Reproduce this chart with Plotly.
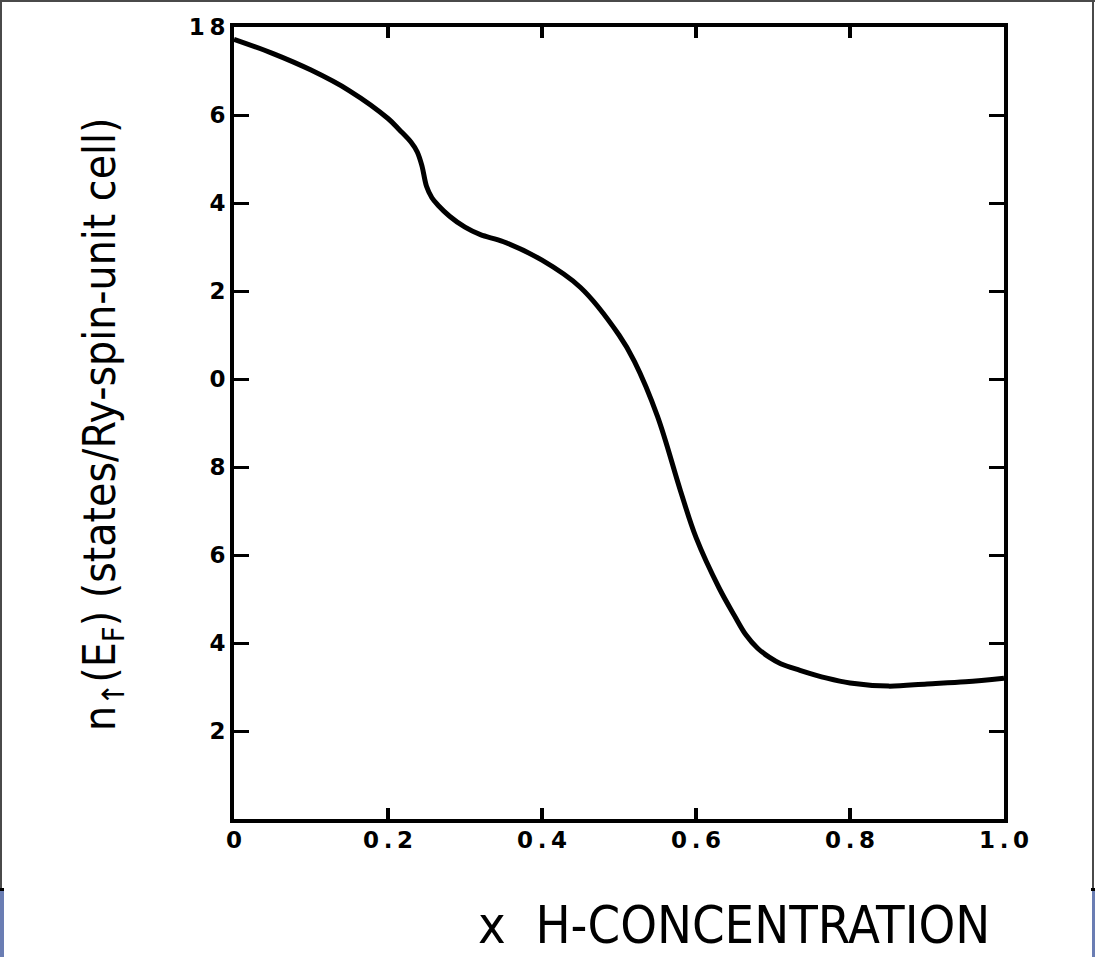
import plotly.graph_objects as go

# Density of states at the Fermi level vs. hydrogen concentration
h_conc = [0.00, 0.05, 0.10, 0.15, 0.20, 0.215, 0.23, 0.238, 0.244, 0.25,
          0.257, 0.265, 0.28, 0.30, 0.32, 0.35, 0.40, 0.45, 0.50, 0.52,
          0.55, 0.58, 0.60, 0.63, 0.65, 0.665, 0.68, 0.695, 0.71, 0.735,
          0.77, 0.80, 0.85, 0.90, 0.95, 1.00]
n_up_ef = [17.72, 17.40, 17.02, 16.55, 15.92, 15.66, 15.38, 15.16, 14.85, 14.38,
           14.12, 13.95, 13.70, 13.45, 13.28, 13.12, 12.70, 12.08, 11.00, 10.40,
           9.15, 7.45, 6.40, 5.25, 4.62, 4.18, 3.88, 3.68, 3.53, 3.38,
           3.20, 3.09, 3.02, 3.07, 3.12, 3.20]

x_tickvals = [0, 0.2, 0.4, 0.6, 0.8, 1.0]
x_ticktext = ["0", "0.2", "0.4", "0.6", "0.8", "1.0"]
y_tickvals = [2, 4, 6, 8, 10, 12, 14, 16, 18]
y_ticktext = ["2", "4", "6", "8", "0", "2", "4", "6", "18"]

W, H = 1095, 957
ML, MR, MT, MB = 234, 91, 27, 138
PW, PH = W - ML - MR, H - MT - MB


def px(xp):
    return (xp - ML) / PW


def py(yp):
    return (H - MB - yp) / PH


TS = "\u2009"  # thin space between glyphs of the tick labels


def spaced(s):
    return TS.join(s)


fig = go.Figure()
fig.add_trace(go.Scatter(
    x=h_conc, y=n_up_ef, mode="lines",
    line=dict(color="black", width=5, shape="spline", smoothing=1.0),
    showlegend=False, hoverinfo="skip",
))

tick_font = dict(family="DejaVu Sans", size=23, color="black", weight="bold")

fig.update_xaxes(
    range=[0, 1], showgrid=False, zeroline=False,
    showline=True, linecolor="black", linewidth=4, mirror="ticks",
    ticks="inside", ticklen=11, tickwidth=4, tickcolor="black",
    tickvals=x_tickvals, ticktext=[spaced(t) for t in x_ticktext],
    tickfont=tick_font, ticklabelstandoff=-3,
)
fig.update_yaxes(
    range=[0, 18], showgrid=False, zeroline=False,
    showline=True, linecolor="black", linewidth=4, mirror="ticks",
    ticks="inside", ticklen=15, tickwidth=3, tickcolor="black",
    tickvals=y_tickvals, ticktext=[spaced(t) for t in y_ticktext],
    tickfont=tick_font, ticklabelstandoff=0,
)

title_family = "DejaVu Sans Condensed, Liberation Sans, sans-serif"

# axis titles
fig.add_annotation(
    text="n<sub>\u2191</sub>(E<sub>F</sub>) (states/Ry-spin-unit cell)",
    xref="paper", yref="paper", x=px(102), y=py(425),
    xanchor="center", yanchor="middle", textangle=-90, showarrow=False,
    font=dict(family=title_family, size=44, color="black"),
)
fig.add_annotation(
    text="x  H-CONCENTRATION",
    xref="paper", yref="paper", x=px(734), y=py(925),
    xanchor="center", yanchor="middle", showarrow=False,
    font=dict(family=title_family, size=52, color="black"),
)

# page frame and bottom side strips
frame = "#4a4a4a"
strip = "#6a7db3"
shapes = [
    dict(x0=px(0), x1=px(W), y0=py(0), y1=py(2), fillcolor=frame),
    dict(x0=px(0), x1=px(2), y0=py(0), y1=py(890), fillcolor=frame),
    dict(x0=px(1092), x1=px(1094), y0=py(0), y1=py(890), fillcolor=frame),
    dict(x0=px(0), x1=px(4), y0=py(888), y1=py(891), fillcolor="black"),
    dict(x0=px(1091), x1=px(W), y0=py(888), y1=py(891), fillcolor="black"),
    dict(x0=px(0), x1=px(4), y0=py(891), y1=py(H), fillcolor=strip),
    dict(x0=px(1092), x1=px(W), y0=py(891), y1=py(H), fillcolor=strip),
]
for s in shapes:
    fig.add_shape(type="rect", xref="paper", yref="paper", line_width=0,
                  layer="above", **s)

fig.update_layout(
    width=W, height=H,
    margin=dict(l=ML, r=MR, t=MT, b=MB),
    paper_bgcolor="white", plot_bgcolor="white",
)

fig.write_html("out.html")
